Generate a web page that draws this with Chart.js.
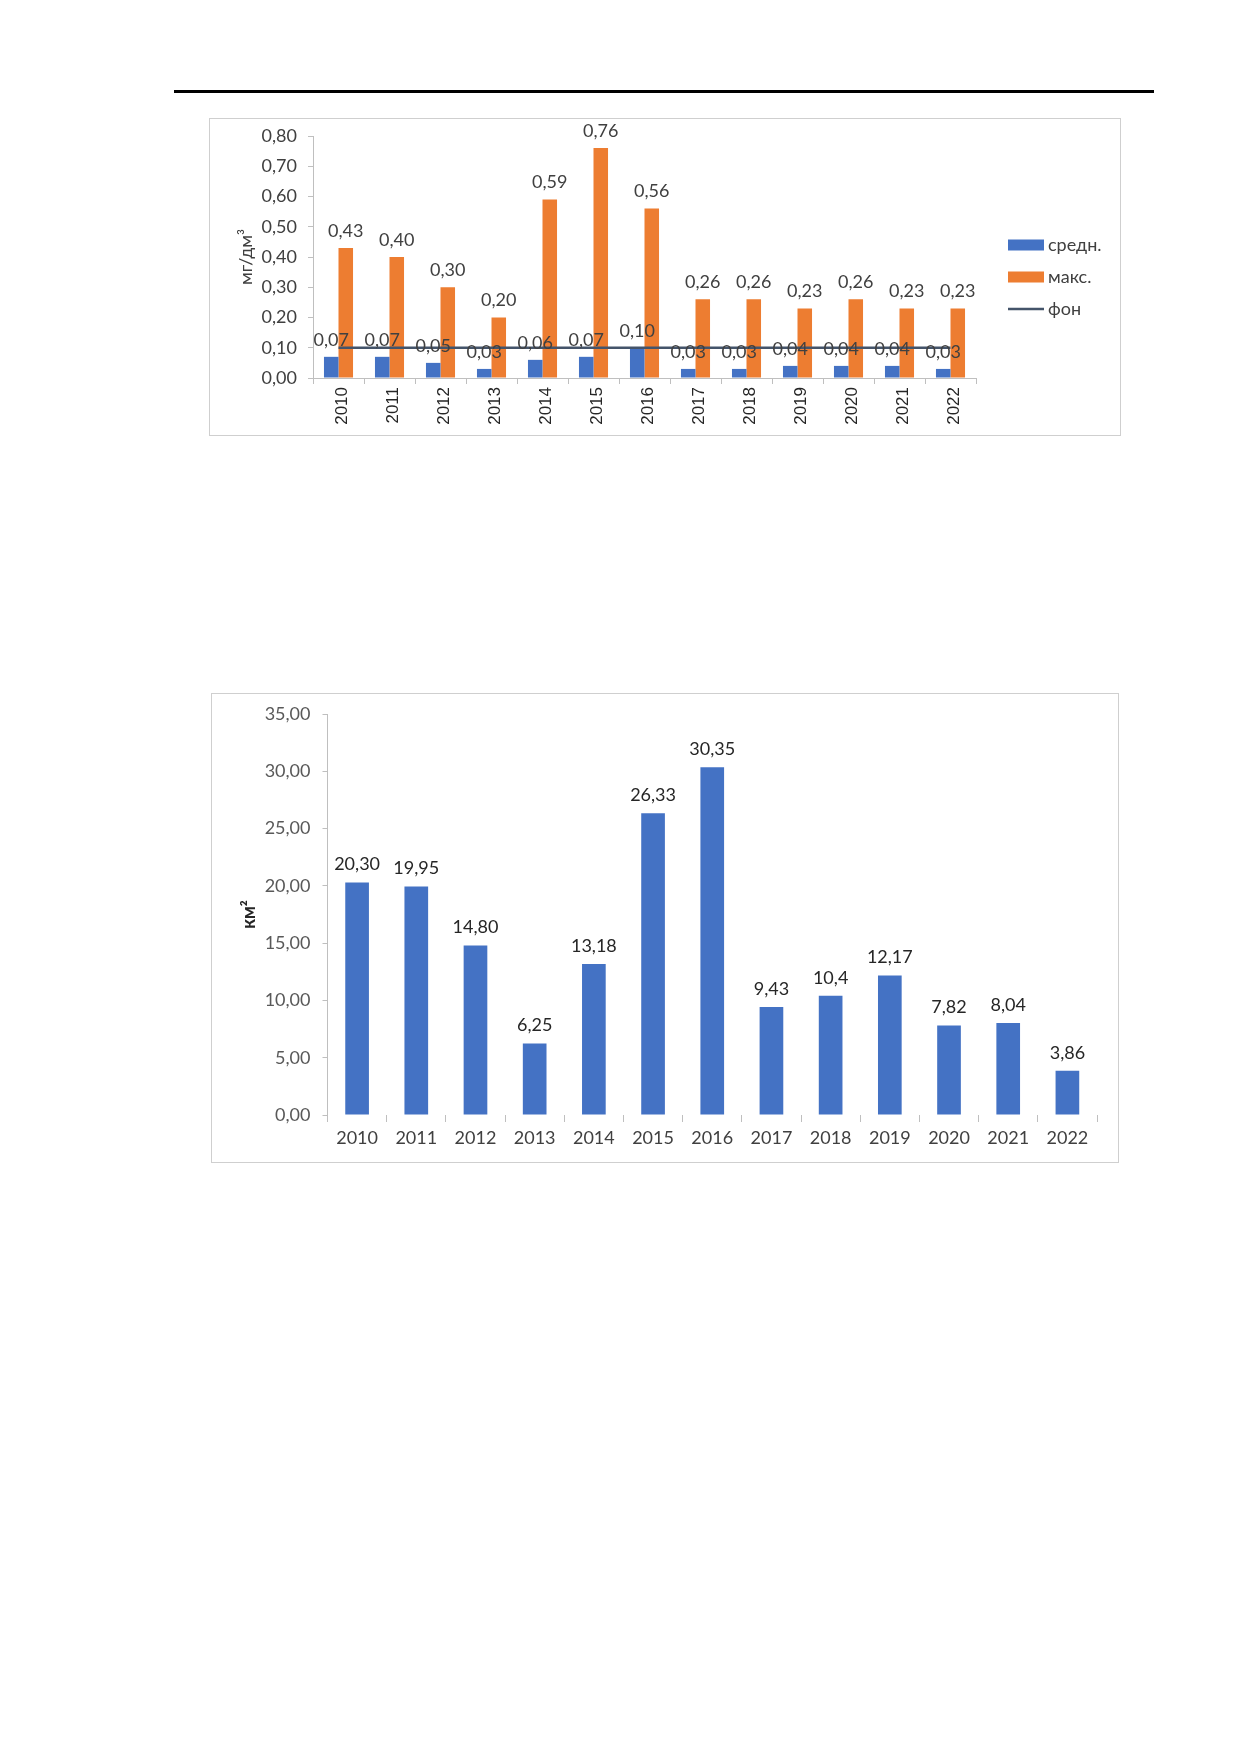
<!DOCTYPE html>
<html>
<head>
<meta charset="utf-8">
<script src="https://cdn.jsdelivr.net/npm/chart.js@4.4.1/dist/chart.umd.min.js"></script>
<style>
  html, body { margin:0; padding:0; background:#fff; }
  body { width:1240px; height:1754px; position:relative; overflow:hidden; }
  #rule { position:absolute; left:174px; top:90px; width:980px; height:3px; background:#000; }
  .frame { position:absolute; border:1px solid #CFCFCF; box-sizing:border-box; }
  #f1 { left:209px; top:118px; width:912px; height:318px; }
  #f2 { left:211px; top:693px; width:908px; height:470px; }
  canvas { position:absolute; left:0; top:0; }
</style>
</head>
<body>
<div id="rule"></div>
<div class="frame" id="f1"><canvas id="c1" width="910" height="316"></canvas></div>
<div class="frame" id="f2"><canvas id="c2" width="906" height="468"></canvas></div>
<script>
// ---------- data ----------
const years = ['2010','2011','2012','2013','2014','2015','2016','2017','2018','2019','2020','2021','2022'];
const meanValues = [0.07,0.07,0.05,0.03,0.06,0.07,0.10,0.03,0.03,0.04,0.04,0.04,0.03];
const maxValues  = [0.43,0.40,0.30,0.20,0.59,0.76,0.56,0.26,0.26,0.23,0.26,0.23,0.23];
const bgValues   = [0.10,0.10,0.10,0.10,0.10,0.10,0.10,0.10,0.10,0.10,0.10,0.10,0.10];
const seriesNames = ['средн.','макс.','фон'];
const yTitle1 = 'мг/дм³';

const areaValues = [20.30,19.95,14.80,6.25,13.18,26.33,30.35,9.43,10.4,12.17,7.82,8.04,3.86];
const areaLabels = ['20,30','19,95','14,80','6,25','13,18','26,33','30,35','9,43','10,4','12,17','7,82','8,04','3,86'];
const yTitle2 = 'км²';

// ---------- helpers ----------
const comma2 = v => Number(v).toFixed(2).replace('.', ',');

const valueLabels = {
  id: 'valueLabels',
  afterDatasetsDraw(chart, args, opts) {
    const ctx = chart.ctx;
    ctx.save();
    ctx.font = opts.font;
    ctx.fillStyle = opts.color;
    ctx.textAlign = 'center';
    ctx.textBaseline = 'bottom';
    chart.data.datasets.forEach((ds, i) => {
      if (ds.type === 'line') return;
      const meta = chart.getDatasetMeta(i);
      meta.data.forEach((el, j) => {
        const txt = opts.formatter(ds.data[j], j, i);
        ctx.fillText(txt, el.x, el.y - opts.offset);
      });
    });
    ctx.restore();
  }
};

const sideLegend = {
  id: 'sideLegend',
  afterDraw(chart, args, opts) {
    if (!opts || !opts.enabled) return;
    const ctx = chart.ctx;
    ctx.save();
    ctx.font = opts.font;
    ctx.textBaseline = 'middle';
    ctx.textAlign = 'left';
    chart.data.datasets.forEach((ds, i) => {
      const y = opts.y + i * opts.gap;
      if (ds.type === 'line') {
        ctx.strokeStyle = ds.borderColor;
        ctx.lineWidth = ds.borderWidth;
        ctx.beginPath();
        ctx.moveTo(opts.x, y);
        ctx.lineTo(opts.x + opts.w, y);
        ctx.stroke();
      } else {
        ctx.fillStyle = ds.backgroundColor;
        ctx.fillRect(opts.x, y - opts.h / 2, opts.w, opts.h);
      }
      ctx.fillStyle = opts.color;
      ctx.fillText(ds.label, opts.x + opts.w + 4, y);
    });
    ctx.restore();
  }
};

const AXIS = '#BFBFBF';
const TXT = '#404040';

// ---------- chart 1 ----------
new Chart(document.getElementById('c1'), {
  type: 'bar',
  data: {
    labels: years,
    datasets: [
      { label: seriesNames[0], data: meanValues, backgroundColor:'#4472C4', order: 1,
        categoryPercentage: 0.57, barPercentage: 1.0 },
      { label: seriesNames[1], data: maxValues, backgroundColor:'#ED7D31', order: 1,
        categoryPercentage: 0.57, barPercentage: 1.0 },
      { type:'line', label: seriesNames[2], data: bgValues, borderColor:'#44546A', backgroundColor:'#44546A',
        borderWidth: 2.5, pointRadius: 0, order: 0 }
    ]
  },
  options: {
    responsive: false,
    animation: false,
    devicePixelRatio: 1,
    layout: { padding: { left: 25, top: 17, right: 144, bottom: 0 } },
    plugins: {
      legend: { display: false },
      tooltip: { enabled: false },
      valueLabels: { font: '18px Lato', color: TXT, offset: 8, formatter: v => comma2(v) },
      sideLegend: { enabled: true, x: 798, y: 126, gap: 32, w: 36, h: 11, font: '18px Lato', color: TXT }
    },
    scales: {
      x: {
        offset: true,
        grid: { display: true, offset: true, drawOnChartArea: false, drawTicks: true, tickLength: 6, color: AXIS },
        border: { display: true, color: AXIS, width: 1 },
        ticks: { autoSkip: false, minRotation: 90, maxRotation: 90, padding: 3, labelOffset: 4, color: '#262626', font: { family: 'Liberation Sans', size: 17 } },
        afterFit: s => { s.height = 57; s.paddingTop = 0; s.paddingBottom = 0; }
      },
      y: {
        min: 0, max: 0.8,
        ticks: { stepSize: 0.1, padding: 11, color: TXT, font: { family: 'Lato', size: 18 }, callback: v => comma2(v) },
        grid: { display: true, drawOnChartArea: false, drawTicks: true, tickLength: 5, color: AXIS },
        border: { display: true, color: AXIS, width: 1 },
        title: { display: true, text: yTitle1, color: TXT, font: { family: 'Lato', size: 18 }, padding: { top: 0, bottom: 0 } },
        afterFit: s => { s.width = 78; s.paddingTop = 0; s.paddingBottom = 0; }
      }
    }
  },
  plugins: [valueLabels, sideLegend]
});

// ---------- chart 2 ----------
new Chart(document.getElementById('c2'), {
  type: 'bar',
  data: {
    labels: years,
    datasets: [
      { label: 'км²', data: areaValues, backgroundColor:'#4472C4', categoryPercentage: 1.0, barPercentage: 0.4 }
    ]
  },
  options: {
    responsive: false,
    animation: false,
    devicePixelRatio: 1,
    layout: { padding: { left: 26, top: 20, right: 21, bottom: 0 } },
    plugins: {
      legend: { display: false },
      tooltip: { enabled: false },
      valueLabels: { font: '18px Lato', color: '#262626', offset: 9, formatter: (v, j) => areaLabels[j] },
      sideLegend: { enabled: false }
    },
    scales: {
      x: {
        offset: true,
        grid: { display: true, offset: true, drawOnChartArea: false, drawTicks: true, tickLength: 7, color: AXIS },
        border: { display: false },
        ticks: { autoSkip: false, maxRotation: 0, minRotation: 0, padding: 5, color: '#404040', font: { family: 'Lato', size: 18 } },
        afterFit: s => { s.height = 47; s.paddingTop = 0; s.paddingBottom = 0; }
      },
      y: {
        min: 0, max: 35,
        ticks: { stepSize: 5, padding: 12, color: '#595959', font: { family: 'Lato', size: 18 }, callback: v => comma2(v) },
        grid: { display: true, drawOnChartArea: false, drawTicks: true, tickLength: 5, color: AXIS },
        border: { display: true, color: AXIS, width: 1 },
        title: { display: true, text: yTitle2, color: '#262626', font: { family: 'Lato', size: 18, weight: 'bold' }, padding: { top: 0, bottom: 0 } },
        afterFit: s => { s.width = 89.5; s.paddingTop = 0; s.paddingBottom = 0; }
      }
    }
  },
  plugins: [valueLabels, sideLegend]
});
</script>
</body>
</html>
